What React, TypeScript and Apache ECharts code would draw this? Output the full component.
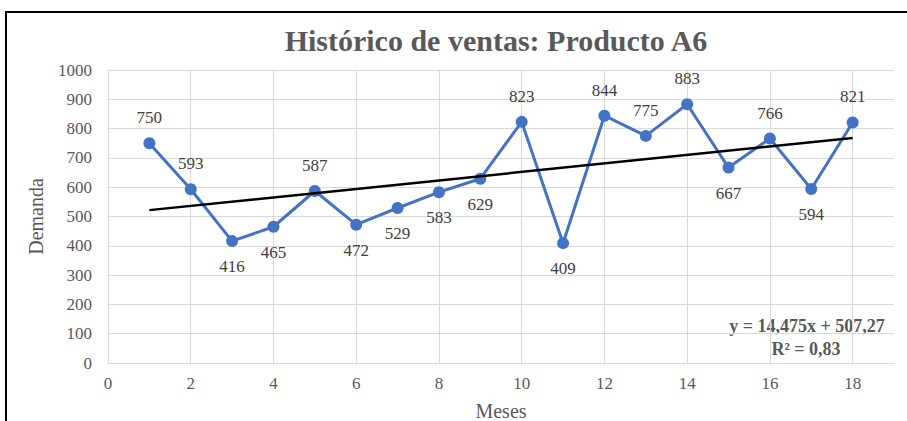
import React, { useEffect, useRef } from "react";
import * as echarts from "echarts";

const months = [1, 2, 3, 4, 5, 6, 7, 8, 9, 10, 11, 12, 13, 14, 15, 16, 17, 18];
const demand = [750, 593, 416, 465, 587, 472, 529, 583, 629, 823, 409, 844, 775, 883, 667, 766, 594, 821];
const labelPos = ["top", "top", "bottom", "bottom", "top", "bottom", "bottom", "bottom", "bottom", "top", "bottom", "top", "top", "top", "bottom", "top", "bottom", "top"];
const trendSlope = 14.475;
const trendIntercept = 507.27;
const trendX = [1, 18];
const titleText = "Histórico de ventas: Producto A6";
const eqLine1 = "y = 14,475x + 507,27";
const eqLine2 = "R² = 0,83";

const FONT = "'Liberation Serif', 'Times New Roman', serif";
const GREY = "#595959";

export default function App() {
  const ref = useRef<HTMLDivElement>(null);
  useEffect(() => {
    document.body.style.margin = "0";
    if (!ref.current) return;
    const chart = echarts.init(ref.current, undefined, { renderer: "svg" });
    const pts = months.map((m, i) => ({
      value: [m, demand[i]],
      label: { position: labelPos[i] },
    }));
    const trend = trendX.map((x) => [x, trendSlope * x + trendIntercept]);
    chart.setOption({
      animation: false,
      backgroundColor: "#ffffff",
      title: {
        text: titleText,
        left: 491,
        top: 20,
        textAlign: "center",
        textStyle: { fontFamily: FONT, fontSize: 30, fontWeight: "bold", color: GREY },
      },
      grid: { left: 108, right: 13, top: 70, bottom: 58, containLabel: false, outerBoundsMode: "none" },
      xAxis: {
        type: "value",
        min: 0,
        max: 19,
        interval: 2,
        name: "Meses",
        nameLocation: "middle",
        nameGap: 38,
        nameTextStyle: { fontFamily: FONT, fontSize: 20, color: GREY },
        axisLine: { show: true, lineStyle: { color: "#d9d9d9", width: 1 } },
        axisTick: { show: false },
        axisLabel: { showMaxLabel: false, fontFamily: FONT, fontSize: 17, color: GREY, margin: 12 },
        splitLine: { show: true, showMaxLine: false, lineStyle: { color: "#d9d9d9", width: 1 } },
      },
      yAxis: {
        type: "value",
        min: 0,
        max: 1000,
        interval: 100,
        name: "Demanda",
        nameLocation: "middle",
        nameGap: 62,
        nameRotate: 90,
        nameTextStyle: { fontFamily: FONT, fontSize: 20, color: GREY },
        axisLine: { show: true, lineStyle: { color: "#d9d9d9", width: 1 } },
        axisTick: { show: false },
        axisLabel: {
          fontFamily: FONT,
          fontSize: 17,
          color: GREY,
          margin: 16,
          formatter: (v: number) => String(v),
        },
        splitLine: { show: true, lineStyle: { color: "#d9d9d9", width: 1 } },
      },
      series: [
        {
          type: "line",
          data: pts,
          symbol: "circle",
          symbolSize: 12,
          itemStyle: { color: "#4472C4" },
          lineStyle: { color: "#4472C4", width: 3 },
          label: {
            show: true,
            distance: 11,
            fontFamily: FONT,
            fontSize: 17,
            color: "#404040",
            formatter: (p: any) => String(p.value[1]),
          },
          z: 3,
        },
        {
          type: "line",
          data: trend,
          symbol: "none",
          lineStyle: { color: "#000000", width: 2.5 },
          z: 4,
        },
      ],
      graphic: [
        {
          type: "rect",
          shape: { x: 6, y: 12, width: 920, height: 430 },
          style: { fill: "none", stroke: "#000000", lineWidth: 2 },
          silent: true,
        },
        {
          type: "text",
          x: 807,
          y: 326,
          style: {
            text: eqLine1,
            textAlign: "center",
            textVerticalAlign: "middle",
            font: `bold 18px ${FONT}`,
            fill: GREY,
          },
        },
        {
          type: "text",
          x: 806,
          y: 349,
          style: {
            text: eqLine2,
            textAlign: "center",
            textVerticalAlign: "middle",
            font: `bold 18px ${FONT}`,
            fill: GREY,
          },
        },
      ],
    });
    return () => chart.dispose();
  }, []);
  return <div ref={ref} style={{ width: 907, height: 421 }} />;
}
